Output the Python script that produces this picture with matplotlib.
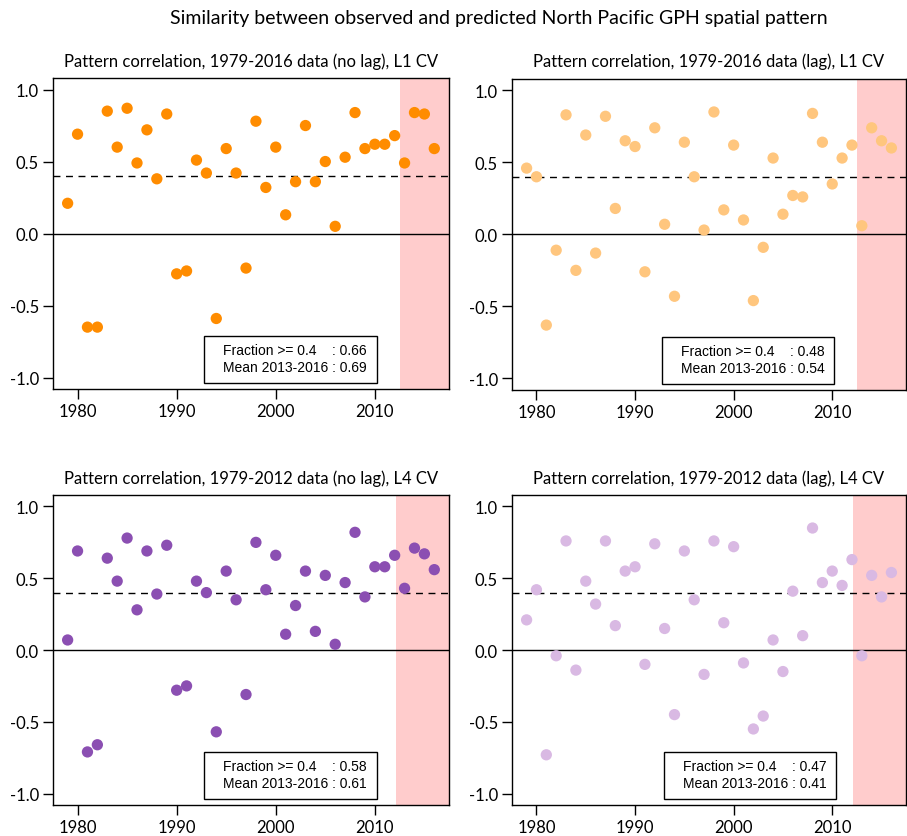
import numpy as np
import matplotlib
matplotlib.use("Agg")
import matplotlib.pyplot as plt
from matplotlib.patches import Rectangle

years = np.arange(1979, 2017)

corr_l1_nolag = [0.21, 0.69, -0.65, -0.65, 0.85, 0.60, 0.87, 0.49, 0.72, 0.38,
                 0.83, -0.28, -0.26, 0.51, 0.42, -0.59, 0.59, 0.42, -0.24, 0.78,
                 0.32, 0.60, 0.13, 0.36, 0.75, 0.36, 0.50, 0.05, 0.53, 0.84,
                 0.59, 0.62, 0.62, 0.68, 0.49, 0.84, 0.83, 0.59]
corr_l1_lag = [0.46, 0.40, -0.63, -0.11, 0.83, -0.25, 0.69, -0.13, 0.82, 0.18,
               0.65, 0.61, -0.26, 0.74, 0.07, -0.43, 0.64, 0.40, 0.03, 0.85,
               0.17, 0.62, 0.10, -0.46, -0.09, 0.53, 0.14, 0.27, 0.26, 0.84,
               0.64, 0.35, 0.53, 0.62, 0.06, 0.74, 0.65, 0.60]
corr_l4_nolag = [0.07, 0.69, -0.71, -0.66, 0.64, 0.48, 0.78, 0.28, 0.69, 0.39,
                 0.73, -0.28, -0.25, 0.48, 0.40, -0.57, 0.55, 0.35, -0.31, 0.75,
                 0.42, 0.66, 0.11, 0.31, 0.55, 0.13, 0.52, 0.04, 0.47, 0.82,
                 0.37, 0.58, 0.58, 0.66, 0.43, 0.71, 0.67, 0.56]
corr_l4_lag = [0.21, 0.42, -0.73, -0.04, 0.76, -0.14, 0.48, 0.32, 0.76, 0.17,
               0.55, 0.58, -0.10, 0.74, 0.15, -0.45, 0.69, 0.35, -0.17, 0.76,
               0.19, 0.72, -0.09, -0.55, -0.46, 0.07, -0.15, 0.41, 0.10, 0.85,
               0.47, 0.55, 0.45, 0.63, -0.04, 0.52, 0.37, 0.54]

titles = ["Pattern correlation, 1979-2016 data (no lag), L1 CV",
          "Pattern correlation, 1979-2016 data (lag), L1 CV",
          "Pattern correlation, 1979-2012 data (no lag), L4 CV",
          "Pattern correlation, 1979-2012 data (lag), L4 CV"]
fractions = ["0.66", "0.48", "0.58", "0.47"]
means = ["0.69", "0.54", "0.61", "0.41"]
colors = ["#ff8c00", "#ffc67e", "#8b4fb2", "#d9b9e3"]
shade_start = [2012.5, 2012.5, 2012.1, 2012.1]
series = [corr_l1_nolag, corr_l1_lag, corr_l4_nolag, corr_l4_lag]

title_font = "Lato"
box_font = "Liberation Sans"

fig = plt.figure(figsize=(9.07, 8.37), dpi=100)

positions = [[0.0584, 0.534, 0.4366, 0.3716],
             [0.5645, 0.533, 0.4344, 0.3716],
             [0.0584, 0.037, 0.4366, 0.3704],
             [0.5645, 0.037, 0.4344, 0.3704]]
box_x = [0.381, 0.381, 0.381, 0.386]

for i in range(4):
    ax = fig.add_axes(positions[i])
    ax.axvspan(shade_start[i], 2020, color="#ffcccc", lw=0, zorder=0)
    ax.axhline(0, color="black", lw=1, zorder=1)
    ax.axhline(0.4, color="black", lw=1, ls=(0, (5, 4)), zorder=1)
    ax.scatter(years, series[i], s=66, color=colors[i], edgecolors="none", zorder=3)
    ax.set_xlim(1977.52, 2017.48)
    ax.set_ylim(-1.08, 1.08)
    ax.set_xticks([1980, 1990, 2000, 2010])
    ax.set_yticks([-1.0, -0.5, 0.0, 0.5, 1.0])
    ax.set_yticklabels(["-1.0", "-0.5", "0.0", "0.5", "1.0"])
    ax.tick_params(direction="out", length=7, width=1, labelsize=12, pad=3)
    for lab in ax.get_xticklabels() + ax.get_yticklabels():
        lab.set_fontfamily(title_font)
    for sp in ax.spines.values():
        sp.set_linewidth(1)
    ax.set_title(titles[i], fontsize=12, fontfamily=title_font, pad=9)

    bx = box_x[i]
    ax.add_patch(Rectangle((bx, 0.019), 0.437, 0.151, transform=ax.transAxes,
                           facecolor="white", edgecolor="black", lw=1, zorder=4))
    ax.text(bx + 0.048, 0.125, "Fraction >= 0.4    : " + fractions[i],
            transform=ax.transAxes, fontsize=10, fontfamily=box_font,
            va="center", ha="left", zorder=5)
    ax.text(bx + 0.048, 0.071, "Mean 2013-2016 : " + means[i],
            transform=ax.transAxes, fontsize=10, fontfamily=box_font,
            va="center", ha="left", zorder=5)

fig.text(0.55, 0.978, "Similarity between observed and predicted North Pacific GPH spatial pattern",
         ha="center", va="center", fontsize=14, fontfamily=title_font)

fig.savefig("out.png", dpi=100)
